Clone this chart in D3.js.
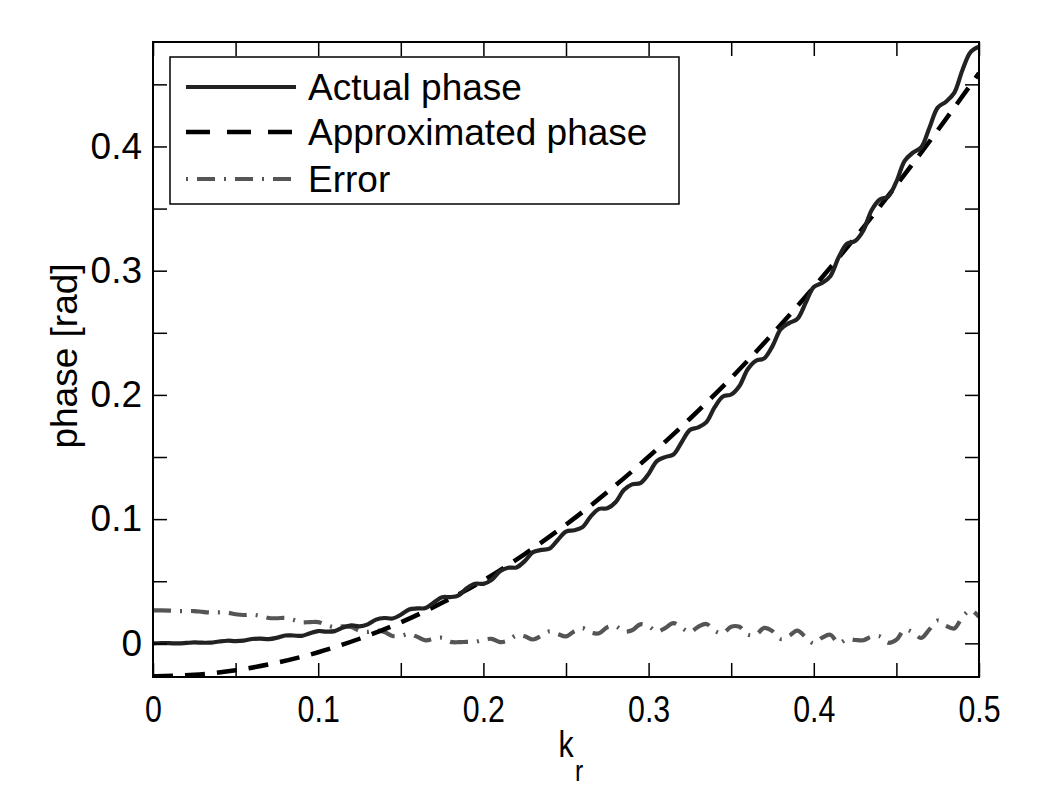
<!DOCTYPE html>
<html>
<head>
<meta charset="utf-8">
<script src="https://cdn.jsdelivr.net/npm/d3@7"></script>
<style>
  html, body { margin: 0; padding: 0; background: #fff; }
  svg { display: block; }
  text { font-family: "Liberation Sans", Arial, Helvetica, sans-serif; fill: #000; }
</style>
</head>
<body>
<svg id="chart" width="1050" height="797"></svg>
<script>
// ---------------- data ----------------
const kGrid = [0,0.005,0.01,0.015,0.02,0.025,0.03,0.035,0.04,0.045,
  0.05,0.055,0.06,0.065,0.07,0.075,0.08,0.085,0.09,0.095,
  0.1,0.105,0.11,0.115,0.12,0.125,0.13,0.135,0.14,0.145,
  0.15,0.155,0.16,0.165,0.17,0.175,0.18,0.185,0.19,0.195,
  0.2,0.205,0.21,0.215,0.22,0.225,0.23,0.235,0.24,0.245,
  0.25,0.255,0.26,0.265,0.27,0.275,0.28,0.285,0.29,0.295,
  0.3,0.305,0.31,0.315,0.32,0.325,0.33,0.335,0.34,0.345,
  0.35,0.355,0.36,0.365,0.37,0.375,0.38,0.385,0.39,0.395,
  0.4,0.405,0.41,0.415,0.42,0.425,0.43,0.435,0.44,0.445,
  0.45,0.455,0.46,0.465,0.47,0.475,0.48,0.485,0.49,0.495,0.5];

const actualPhase = [0.0000,0.0001,0.0001,0.0000,0.0003,0.0007,0.0005,0.0006,0.0015,0.0021,
  0.0018,0.0022,0.0035,0.0038,0.0034,0.0045,0.0063,0.0063,0.0060,0.0081,
  0.0099,0.0094,0.0098,0.0127,0.0144,0.0137,0.0153,0.0191,0.0204,0.0200,
  0.0230,0.0273,0.0281,0.0284,0.0329,0.0371,0.0372,0.0387,0.0444,0.0480,
  0.0479,0.0511,0.0580,0.0609,0.0611,0.0662,0.0734,0.0752,0.0762,0.0832,
  0.0900,0.0910,0.0936,0.1022,0.1082,0.1087,0.1136,0.1234,0.1280,0.1290,
  0.1364,0.1467,0.1499,0.1520,0.1619,0.1717,0.1738,0.1781,0.1901,0.1987,
  0.2003,0.2072,0.2206,0.2275,0.2294,0.2393,0.2529,0.2578,0.2611,0.2739,
  0.2868,0.2901,0.2956,0.3106,0.3216,0.3239,0.3324,0.3487,0.3573,0.3597,
  0.3717,0.3884,0.3950,0.3993,0.4151,0.4313,0.4360,0.4431,0.4616,0.4762,0.4803];

const errorValues = [0.0265,0.0266,0.0264,0.0260,0.0260,0.0260,0.0253,0.0248,0.0249,0.0247,
  0.0234,0.0228,0.0231,0.0221,0.0204,0.0202,0.0205,0.0189,0.0169,0.0171,
  0.0171,0.0146,0.0129,0.0137,0.0131,0.0101,0.0092,0.0104,0.0091,0.0059,
  0.0061,0.0075,0.0052,0.0024,0.0036,0.0045,0.0012,0.0009,0.0012,0.0012,
  0.0029,0.0036,0.0010,0.0023,0.0064,0.0057,0.0031,0.0060,0.0096,0.0075,
  0.0056,0.0097,0.0122,0.0087,0.0081,0.0130,0.0137,0.0095,0.0105,0.0153,
  0.0138,0.0095,0.0123,0.0163,0.0125,0.0091,0.0133,0.0156,0.0101,0.0082,
  0.0134,0.0133,0.0070,0.0071,0.0124,0.0098,0.0035,0.0060,0.0103,0.0051,
  0.0000,0.0045,0.0069,0.0002,0.0032,0.0027,0.0025,0.0055,0.0056,0.0005,
  0.0029,0.0110,0.0088,0.0043,0.0112,0.0183,0.0141,0.0120,0.0213,0.0266,0.0213];

const kApprox = [0,0.025,0.05,0.075,0.1,0.125,0.15,0.175,0.2,0.225,0.25,
  0.275,0.3,0.325,0.35,0.375,0.4,0.425,0.45,0.475,0.5];
const approxPhase = [-0.0265,-0.0253,-0.0217,-0.0156,-0.0072,0.0037,0.0169,0.0326,0.0507,0.0719,0.0956,
  0.1217,0.1502,0.1808,0.2137,0.2491,0.2868,0.3266,0.3688,0.4130,0.4590];

const xTickValues = [0,0.05,0.1,0.15,0.2,0.25,0.3,0.35,0.4,0.45,0.5];
const xTickLabels = ["0","","0.1","","0.2","","0.3","","0.4","","0.5"];
const yTickValues = [0,0.05,0.1,0.15,0.2,0.25,0.3,0.35,0.4,0.45];
const yTickLabels = ["0","","0.1","","0.2","","0.3","","0.4",""];

const legendLabels = ["Actual phase","Approximated phase","Error"];
const xDomain = [0, 0.5];
const yDomain = [-0.0271, 0.4841];

// ---------------- drawing ----------------
const svg = d3.select("#chart");
const L = 153, R = 979, T = 42, B = 677;

const x = d3.scaleLinear().domain(xDomain).range([L, R]);
const y = d3.scaleLinear().domain(yDomain).range([B, T]);

svg.append("defs").append("clipPath").attr("id", "plotclip")
  .append("rect").attr("x", L).attr("y", T).attr("width", R - L).attr("height", B - T);

const styles = [
  { color: "#222", width: 4.2, dash: null },
  { color: "#000", width: 4.5, dash: "20,12" },
  { color: "#555", width: 4.2, dash: "18,9,2,9" }
];

const plot = svg.append("g").attr("clip-path", "url(#plotclip)");

const lineA = d3.line().x((d, i) => x(kGrid[i])).y(d => y(d)).curve(d3.curveCatmullRom.alpha(0.5));
const lineP = d3.line().x((d, i) => x(kApprox[i])).y(d => y(d)).curve(d3.curveNatural);

plot.append("path").datum(errorValues).attr("d", lineA)
  .attr("fill", "none").attr("stroke", styles[2].color).attr("stroke-width", styles[2].width)
  .attr("stroke-dasharray", styles[2].dash);

plot.append("path").datum(approxPhase).attr("d", lineP)
  .attr("fill", "none").attr("stroke", styles[1].color).attr("stroke-width", styles[1].width)
  .attr("stroke-dasharray", styles[1].dash);

plot.append("path").datum(actualPhase).attr("d", lineA)
  .attr("fill", "none").attr("stroke", styles[0].color).attr("stroke-width", styles[0].width);

// axes with inward ticks
const tickLen = 14;
const xAxisB = d3.axisBottom(x).tickValues(xTickValues).tickSize(-tickLen).tickPadding(19)
  .tickFormat((d, i) => xTickLabels[i]);
const xAxisT = d3.axisTop(x).tickValues(xTickValues).tickSize(-tickLen).tickFormat("");
const yAxisL = d3.axisLeft(y).tickValues(yTickValues).tickSize(-tickLen).tickPadding(11)
  .tickFormat((d, i) => yTickLabels[i]);
const yAxisR = d3.axisRight(y).tickValues(yTickValues).tickSize(-tickLen).tickFormat("");

function styleAxis(g) {
  g.select(".domain").remove();
  g.selectAll(".tick line").attr("stroke", "#000").attr("stroke-width", 1.5);
  g.selectAll("text").style("font-size", "37px").attr("fill", "#000");
}

const gxB = svg.append("g").attr("transform", `translate(0,${B})`).call(xAxisB).call(styleAxis);
gxB.selectAll(".tick text").attr("transform", "scale(0.82,1)").attr("dy", "0.71em");
svg.append("g").attr("transform", `translate(0,${T})`).call(xAxisT).call(styleAxis);
svg.append("g").attr("transform", `translate(${L},0)`).call(yAxisL).call(styleAxis);
svg.append("g").attr("transform", `translate(${R},0)`).call(yAxisR).call(styleAxis);

// frame
svg.append("rect").attr("x", L).attr("y", T).attr("width", R - L).attr("height", B - T)
  .attr("fill", "none").attr("stroke", "#000").attr("stroke-width", 2);

// axis labels
svg.append("text")
  .attr("transform", `translate(77,356) rotate(-90)`)
  .attr("text-anchor", "middle").style("font-size", "37px").text("phase [rad]");

const xl = svg.append("g").attr("transform", `translate(566,757) scale(0.82,1)`);
xl.append("text").attr("x", 0).attr("text-anchor", "middle").style("font-size", "37px").text("k");
xl.append("text").attr("x", 16).attr("y", 24).attr("text-anchor", "middle").style("font-size", "30px").text("r");

// legend
const lg = svg.append("g");
lg.append("rect").attr("x", 170).attr("y", 57).attr("width", 509).attr("height", 147)
  .attr("fill", "#fff").attr("stroke", "#000").attr("stroke-width", 1.5);
const rowsY = [87, 132, 179];
legendLabels.forEach((lab, i) => {
  const s = styles[i];
  lg.append("line").attr("x1", 186).attr("x2", 296).attr("y1", rowsY[i]).attr("y2", rowsY[i])
    .attr("stroke", s.color).attr("stroke-width", s.width)
    .attr("stroke-dasharray", i === 1 ? "24,17" : (i === 2 ? "2,9,18,9" : null));
  lg.append("text").attr("x", 308).attr("y", rowsY[i]).attr("dy", "0.36em")
    .style("font-size", "37px").text(lab);
});
</script>
</body>
</html>
